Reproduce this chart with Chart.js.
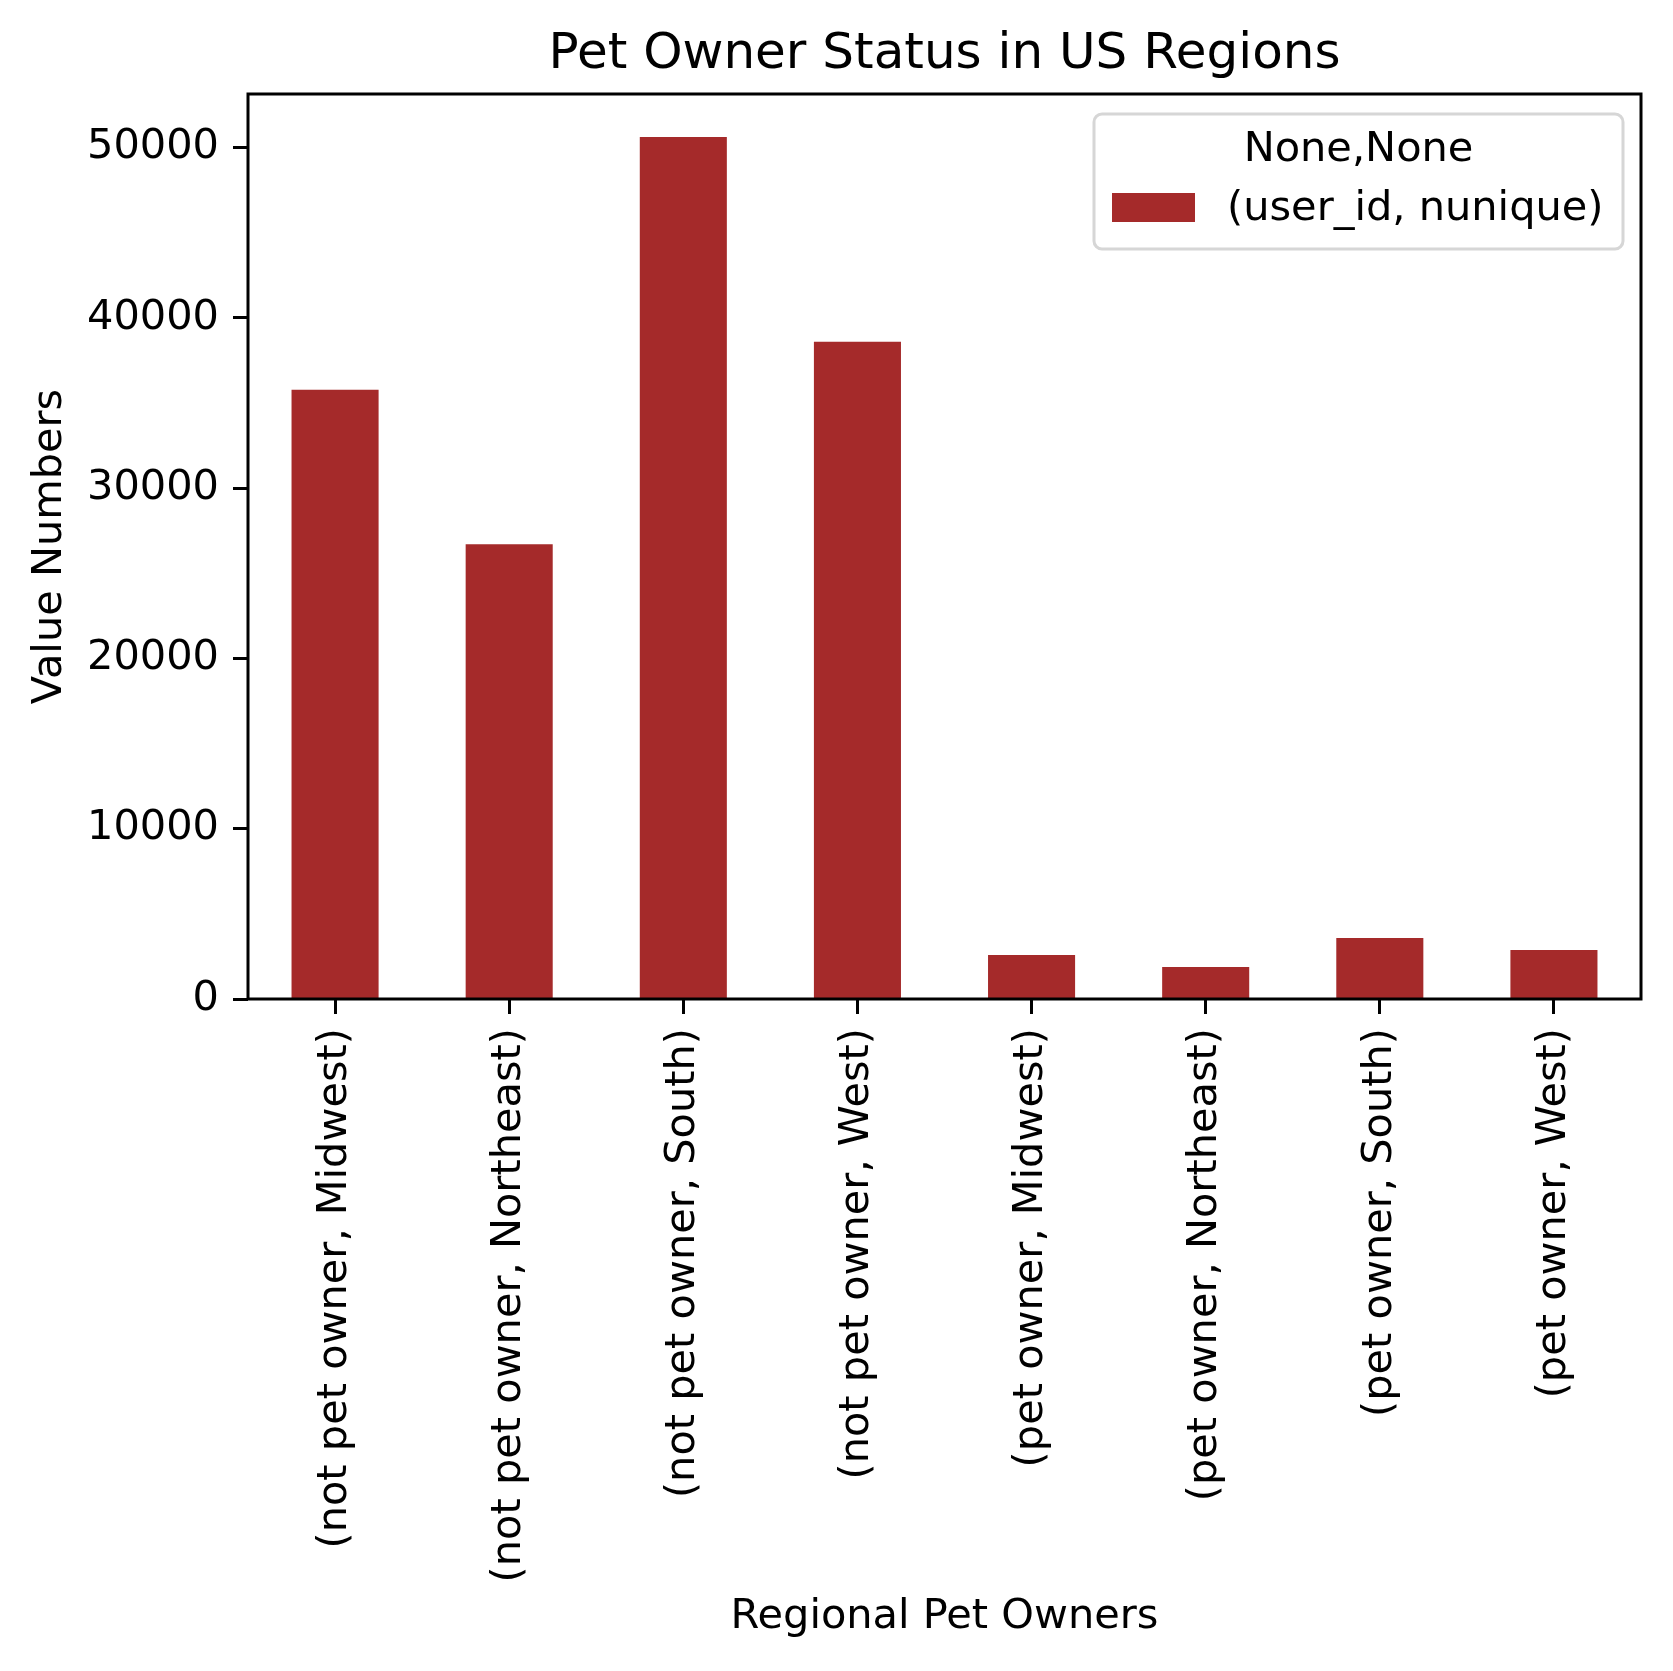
<!DOCTYPE html>
<html>
<head>
<meta charset="utf-8">
<script src="https://cdn.jsdelivr.net/npm/chart.js@4/dist/chart.umd.min.js"></script>
<style>
  html, body { margin: 0; padding: 0; background: #fff; }
  #wrap { width: 1673px; height: 1671px; }
</style>
</head>
<body>
<div id="wrap"><canvas id="chart"></canvas></div>
<script>
const categories = [
    '(not pet owner, Midwest)', '(not pet owner, Northeast)', '(not pet owner, South)', '(not pet owner, West)',
    '(pet owner, Midwest)', '(pet owner, Northeast)', '(pet owner, South)', '(pet owner, West)'
];
const userCounts = [35770, 26700, 50610, 38590, 2580, 1880, 3580, 2880];
const yTicks = [0, 10000, 20000, 30000, 40000, 50000];
const seriesLabel = '(user_id, nunique)';
const legendTitle = 'None,None';

const BAR_COLOR = '#a52a2a';
const FONT_SIZE = 41.5;

Chart.defaults.font.family = "'DejaVu Sans', sans-serif";
Chart.defaults.color = '#000';

// axes frame and the legend box, drawn like matplotlib
const framePlugin = {
    id: 'frame',
    afterDatasetsDraw(chart) {
        const { ctx, chartArea: a } = chart;
        ctx.save();
        ctx.strokeStyle = '#000';
        ctx.lineWidth = 3;
        ctx.strokeRect(a.left, a.top, a.right - a.left, a.bottom - a.top);
        ctx.restore();
    },
    afterDraw(chart) {
        const ctx = chart.ctx;
        const x = 1094, y = 114, w = 529, h = 135, r = 8;
        ctx.save();
        ctx.beginPath();
        ctx.roundRect(x, y, w, h, r);
        ctx.fillStyle = 'rgba(255,255,255,0.8)';
        ctx.fill();
        ctx.strokeStyle = '#d6d6d6';
        ctx.lineWidth = 3;
        ctx.stroke();

        ctx.fillStyle = '#000';
        ctx.font = FONT_SIZE + "px 'DejaVu Sans'";
        ctx.textBaseline = 'middle';
        ctx.textAlign = 'center';
        ctx.fillText(legendTitle, x + w / 2, 150);

        ctx.fillStyle = chart.data.datasets[0].backgroundColor;
        ctx.fillRect(1112, 193, 83, 29);
        ctx.fillStyle = '#000';
        ctx.textAlign = 'left';
        ctx.fillText(chart.data.datasets[0].label, 1227, 209);
        ctx.restore();
    }
};

new Chart(document.getElementById('chart'), {
    type: 'bar',
    data: {
        labels: categories,
        datasets: [{
            label: seriesLabel,
            data: userCounts,
            backgroundColor: BAR_COLOR,
            borderWidth: 0,
            categoryPercentage: 1.0,
            barPercentage: 0.5
        }]
    },
    options: {
        responsive: true,
        maintainAspectRatio: false,
        animation: false,
        layout: { padding: { left: 0, right: 32, top: 0, bottom: 0 } },
        plugins: {
            legend: { display: false },
            tooltip: { enabled: false },
            title: {
                display: true,
                fullSize: false,
                text: 'Pet Owner Status in US Regions',
                font: { size: 50, weight: 'normal' },
                color: '#000',
                padding: { top: 25, bottom: 9 }
            }
        },
        scales: {
            x: {
                offset: true,
                border: { display: false },
                grid: {
                    display: true,
                    offset: false,
                    drawOnChartArea: false,
                    drawTicks: true,
                    tickLength: 15,
                    tickWidth: 3,
                    tickColor: '#000'
                },
                ticks: {
                    minRotation: 90,
                    maxRotation: 90,
                    autoSkip: false,
                    padding: 14,
                    font: { size: FONT_SIZE },
                    color: '#000'
                },
                title: {
                    display: true,
                    text: 'Regional Pet Owners',
                    font: { size: FONT_SIZE },
                    color: '#000',
                    padding: { top: 0, bottom: 29 }
                },
                afterFit(scale) { scale.height = 672; }
            },
            y: {
                min: 0,
                max: 53140,
                border: { display: false },
                grid: {
                    display: true,
                    drawOnChartArea: false,
                    drawTicks: true,
                    tickLength: 15,
                    tickWidth: 3,
                    tickColor: '#000'
                },
                afterBuildTicks(scale) {
                    scale.ticks = yTicks.map(v => ({ value: v }));
                },
                ticks: {
                    padding: 14,
                    font: { size: FONT_SIZE },
                    color: '#000',
                    callback: v => String(v)
                },
                title: {
                    display: true,
                    text: 'Value Numbers',
                    font: { size: FONT_SIZE },
                    color: '#000',
                    padding: { top: 25, bottom: 0 }
                },
                afterFit(scale) { scale.width = 248; }
            }
        }
    },
    plugins: [framePlugin]
});
</script>
</body>
</html>
